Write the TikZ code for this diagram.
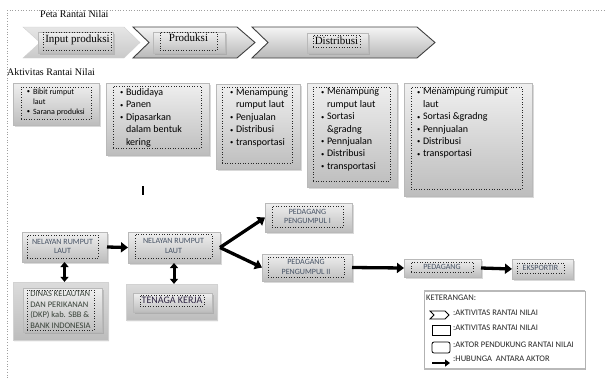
\documentclass[tikz,border=0pt]{standalone}
\usepackage{fontspec}
\setmainfont{Liberation Serif}
\newfontfamily\calfont{Carlito}
\usetikzlibrary{arrows.meta,shadows,shapes.misc}
\definecolor{actortxt}{RGB}{70,82,100}
\definecolor{dinastxt}{RGB}{55,65,55}
\definecolor{tktxt}{RGB}{45,35,65}
\newcommand\bl{\makebox[6pt][l]{\raisebox{0.6pt}{\fontsize{6.5}{6.5}\selectfont\textbullet}}}
\newcommand\ind{\hspace*{6pt}}
\tikzset{
  nw/.style={anchor=north west, inner sep=0pt, outer sep=0pt},
  gbox/.style={nw, draw=gray!55, line width=0.5pt, top color=white!94!black, bottom color=white!74!black,
    drop shadow={shadow xshift=1.5pt, shadow yshift=-1.5pt, opacity=0.3}},
  dotbox/.style={nw, draw=black!85, dotted, line width=0.6pt},
  acttext/.style={nw, align=left, font=\calfont\fontsize{10}{12.4}\selectfont},
  actor/.style={dotbox, align=center, text=actortxt, font=\calfont\fontsize{8}{9.5}\selectfont},
  serif/.style={inner sep=0pt, font=\fontsize{10}{12}\selectfont},
  chevtext/.style={inner sep=0pt, anchor=base, font=\fontsize{11}{13}\selectfont},
  chevA/.style={top color=white!90!black, bottom color=white!79!black, draw=white!82!black, line width=0.4pt},
  chevB/.style={top color=white!96!black, bottom color=white!72!black, draw=black!75, line width=0.9pt, line join=miter},
  bigarrow/.style={line width=3.3pt, -{Triangle[width=10pt,length=7pt]}},
  dblarrow/.style={line width=3pt, {Triangle[width=8pt,length=5pt]}-{Triangle[width=8pt,length=5pt]}},
  support/.style={chamfered rectangle, chamfered rectangle corners=north west,
    chamfered rectangle xsep=8pt, chamfered rectangle ysep=8pt, inner sep=0pt, anchor=north west,
    draw=gray!35, top color=white!86!black, bottom color=white!74!black,
    drop shadow={shadow xshift=1.2pt, shadow yshift=-1.2pt, opacity=0.25}},
  frame/.style={draw=gray!75, dotted, line width=0.7pt},
  legtext/.style={anchor=west, inner sep=0pt, text=black!85, font=\calfont\fontsize{8.5}{10}\selectfont},
}
\begin{document}
\begin{tikzpicture}[x=1pt,y=-1pt]
\useasboundingbox (0,0) rectangle (605,378);
% outer frame
\draw[frame] (7,10) -- (605,10);
\draw[frame] (7,10) -- (7,378);
\node[serif, anchor=base west] (title) at (40,17) {Peta Rantai Nilai};
% chevrons
\shade[chevA] (23,27) -- (124,27) -- (140,42.5) -- (124,58) -- (23,58) -- (40,42.5) -- cycle;
\shade[chevB] (133,27) -- (237,27) -- (255,42.5) -- (237,58) -- (133,58) -- (149,42.5) -- cycle;
\shade[chevB] (252,27) -- (417,27) -- (435,42.5) -- (417,58) -- (252,58) -- (268,42.5) -- cycle;
\node[gbox, minimum width=75pt, minimum height=21pt] (cin) at (38,32) {};
\node[dotbox, minimum width=68pt, minimum height=18pt] (cind) at (43,32) {};
\node[chevtext] (cint) at (77.5,42) {Input produksi};
\node[gbox, minimum width=72pt, minimum height=21pt] (cpr) at (153,32) {};
\node[dotbox, minimum width=57pt, minimum height=18pt] (cprd) at (160,32) {};
\node[chevtext] (cprt) at (188.5,41.5) {Produksi};
\node[gbox, minimum width=61pt, minimum height=20pt] (cdi) at (307,33) {};
\node[dotbox, minimum width=47pt, minimum height=12pt] (cdid) at (313,35) {};
\node[chevtext] (cdit) at (336.5,44.5) {Distribusi};
\node[serif, anchor=base west] (akt) at (7,75) {Aktivitas Rantai Nilai};
% activity boxes
\node[gbox, minimum width=86pt, minimum height=42pt] (b1) at (13,83) {};
\node[dotbox, minimum width=70pt, minimum height=32pt] (b1d) at (21,87) {};
\node[acttext, font=\calfont\fontsize{8}{10}\selectfont] (b1t) at (27,88.5) {\bl Bibit rumput\\\ind laut\\\bl Sarana produksi};
\node[gbox, minimum width=103pt, minimum height=72pt] (b2) at (106,83) {};
\node[dotbox, minimum width=88pt, minimum height=62pt] (b2d) at (113,86) {};
\node[acttext] (b2t) at (120,88.5) {\bl Budidaya\\\bl Panen\\\bl Dipasarkan\\\ind dalam bentuk\\\ind kering};
\node[gbox, minimum width=84pt, minimum height=85pt] (b3) at (216,84) {};
\node[dotbox, minimum width=70pt, minimum height=76pt] (b3d) at (222,87) {};
\node[acttext] (b3t) at (230,89) {\bl Menampung\\\ind rumput laut\\\bl Penjualan\\\bl Distribusi\\\bl transportasi};
\node[gbox, minimum width=90pt, minimum height=104pt] (b4) at (307,83) {};
\node[dotbox, minimum width=77pt, minimum height=94pt] (b4d) at (313,87) {};
\node[acttext] (b4t) at (321,88.5) {\bl Menampung\\\ind rumput laut\\\bl Sortasi\\\ind \&gradng\\\bl Pennjualan\\\bl Distribusi\\\bl transportasi};
\node[gbox, minimum width=128pt, minimum height=113pt] (b5) at (404,83) {};
\node[dotbox, minimum width=111pt, minimum height=102pt] (b5d) at (411,87) {};
\node[acttext] (b5t) at (417,88.5) {\bl Menampung rumput\\\ind laut\\\bl Sortasi \&gradng\\\bl Pennjualan\\\bl Distribusi\\\bl transportasi};
% stray cursor mark
\draw[line width=1.2pt] (143,186) -- (143,195);
% actors
\node[gbox, minimum width=85pt, minimum height=30pt] (n1) at (22,232) {};
\node[actor, minimum width=71pt, minimum height=23pt] (n1t) at (27,235) {NELAYAN RUMPUT\\LAUT};
\node[gbox, minimum width=92pt, minimum height=31pt] (n2) at (128,232) {};
\node[actor, minimum width=77pt, minimum height=24pt] (n2t) at (135,234) {NELAYAN RUMPUT\\LAUT};
\node[gbox, minimum width=87pt, minimum height=29pt] (pp1) at (265,203) {};
\node[actor, minimum width=71pt, minimum height=21pt] (pp1t) at (272,206) {PEDAGANG\\PENGUMPUL I};
\node[gbox, minimum width=90pt, minimum height=27pt] (pp2) at (262,254) {};
\node[actor, minimum width=76pt, minimum height=20pt] (pp2t) at (268,257) {PEDAGANG\\PENGUMPUL II};
\node[gbox, minimum width=77pt, minimum height=18pt] (ped) at (404,259) {};
\node[actor, minimum width=62pt, minimum height=10pt] (pedt) at (411,262) {PEDAGANG};
\node[gbox, minimum width=61pt, minimum height=20pt] (eks) at (512,259) {};
\node[actor, minimum width=47pt, minimum height=10pt] (ekst) at (517,263) {EKSPORTIR};
% supporting actors
\node[support, minimum width=95pt, minimum height=58pt] (dinas) at (13,282) {};
\node[gbox, minimum width=79pt, minimum height=44pt] (dinasin) at (23,288) {};
\node[dotbox, minimum width=67pt, minimum height=40pt, align=left, text=dinastxt,
  font=\calfont\fontsize{8.5}{10.5}\selectfont] (dinast) at (27,290) {DINAS KELAUTAN\\DAN PERIKANAN\\(DKP) kab. SBB \&\\BANK INDONESIA};
\node[support, minimum width=91pt, minimum height=36pt] (tk) at (126,284) {};
\node[gbox, minimum width=79pt, minimum height=19pt] (tkin) at (133,293) {};
\node[dotbox, minimum width=64pt, minimum height=11pt, text=tktxt, font=\calfont\fontsize{10}{12}\selectfont] (tkt) at (140,295) {TENAGA KERJA};
% connectors
\draw[bigarrow] (n1.east) -- (n2.west);
\draw[bigarrow] (n2.east) -- (pp1.west);
\draw[bigarrow] (n2.east) -- (pp2.west);
\draw[bigarrow] (pp2.east) -- (ped.west);
\draw[bigarrow] (ped.east) -- (eks.west);
\draw[dblarrow] (n1.south) -- (n1.south |- dinas.north);
\draw[dblarrow] (n2.south) -- (n2.south |- tk.north);
% legend
\node[nw, draw=gray!60, line width=0.5pt, minimum width=161pt, minimum height=78pt] (leg) at (424,291) {};
\draw[gray!55, line width=1.5pt] (leg.north west) -- (leg.north east);
\draw[gray!55, line width=1.5pt] (leg.south west) -- (leg.south east);
\node[legtext, anchor=north west] (legt) at (426,295) {KETERANGAN:};
\draw[line width=0.8pt, fill=white] (430,311) -- (445,311) -- (449,315) -- (445,319) -- (430,319) -- (434,315) -- cycle;
\node[legtext] (l1) at (453,313) {:AKTIVITAS RANTAI NILAI};
\node[nw, draw=black, line width=0.8pt, minimum width=18pt, minimum height=10pt] (li2) at (432,325) {};
\node[legtext] (l2) at (453,328) {:AKTIVITAS RANTAI NILAI};
\node[nw, draw=black, line width=0.8pt, rounded corners=2pt, minimum width=18pt, minimum height=11pt] (li3) at (432,342) {};
\node[legtext] (l3) at (453,345) {:AKTOR PENDUKUNG RANTAI NILAI};
\coordinate (la) at (432,363);
\coordinate (lb) at (450,363);
\draw[line width=2.6pt, -{Triangle[width=7pt,length=5pt]}] (la) -- (lb);
\node[legtext] (l4) at (453,359) {:HUBUNGA\ \ ANTARA AKTOR};
\end{tikzpicture}
\end{document}
